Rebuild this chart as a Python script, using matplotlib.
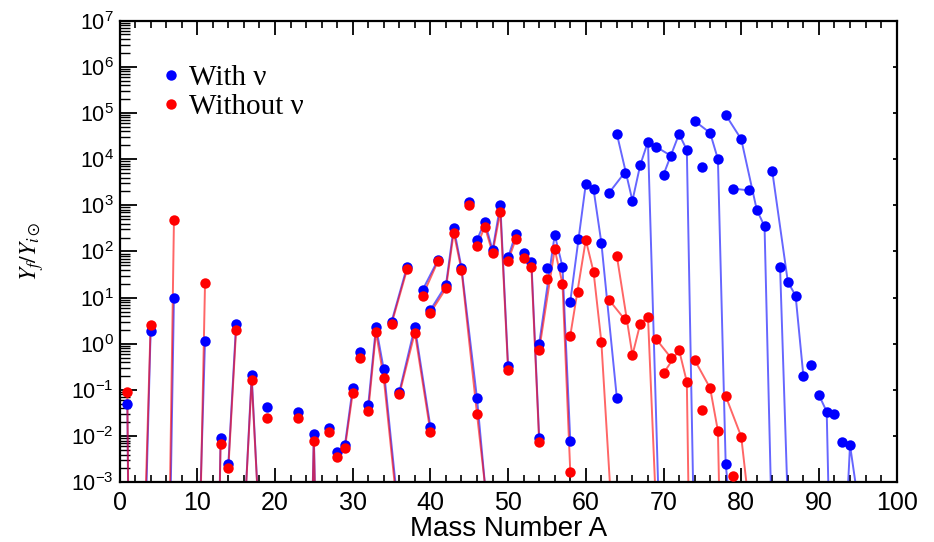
import numpy as np
import matplotlib
matplotlib.use('Agg')
import matplotlib.pyplot as plt
from matplotlib.lines import Line2D
from matplotlib.ticker import MultipleLocator, LogLocator, NullFormatter

# isotope chains (one line per element)
elements = ['H', 'He', 'Li', 'B', 'C', 'N', 'O', 'F', 'Na', 'Mg', 'Al', 'Si', 'P', 'S',
            'Cl', 'Ar', 'K', 'Ca', 'Sc', 'Ti', 'V', 'Cr', 'Mn', 'Fe', 'Co', 'Ni', 'Cu',
            'Zn', 'Ga', 'Ge', 'As', 'Se', 'Br', 'Kr', 'Rb', 'Sr', 'Y', 'Zr', 'Nb', 'Mo']

mass_numbers = [
    [1, 2], [3, 4], [6, 7], [10, 11], [12, 13], [14, 15], [16, 17, 18], [19], [23],
    [24, 25, 26], [27], [28, 29, 30], [31], [32, 33, 34, 36], [35, 37], [36, 38, 40],
    [39, 41], [40, 42, 43, 44, 46, 48], [45], [46, 47, 48, 49, 50], [50, 51],
    [52, 53, 54], [55], [54, 56, 57, 58], [59], [58, 60, 61, 62, 64], [63, 65],
    [64, 66, 67, 68, 70], [69, 71], [70, 72, 73, 74, 76], [75], [74, 76, 77, 78, 80, 82],
    [79, 81], [78, 80, 82, 83, 84, 86], [85, 87], [84, 86, 87, 88], [89],
    [90, 91, 92, 94, 96], [93], [92],
]

with_nu = [
    [0.05, 1e-20], [1e-6, 1.9], [1e-9, 10], [3e-6, 1.17], [1e-12, 0.009], [0.0025, 2.7],
    [1e-4, 0.21, 1e-4], [0.042], [0.033], [1e-10, 0.011, 1e-10], [0.015],
    [0.0046, 0.0064, 0.11], [0.65], [0.047, 2.35, 0.28, 1.5e-4], [3.0, 47],
    [0.09, 2.35, 0.016], [14.7, 67], [5.4, 18.6, 330, 45, 0.066, 1.5e-5], [1200],
    [178, 445, 107, 1020, 0.33], [75, 245], [92, 60, 0.0093], [43.5],
    [1.0, 230, 47, 0.008], [183], [8.2, 2900, 2200, 155, 0.066], [1870, 5100],
    [35000, 1260, 7400, 24000, 1e-7], [18700, 11700], [4600, 35000, 15800, 1.6e-5, 1e-8],
    [6600], [67000, 37000, 10000, 0.0025, 1e-6, 1e-8], [2300, 2100],
    [91000, 27000, 800, 350, 4e-5, 1e-8], [46, 2e-9], [5400, 22, 11, 0.2], [0.35],
    [0.078, 0.034, 1e-9, 0.0064, 3e-5], [0.0075], [0.031],
]

without_nu = [
    [0.09, 1e-20], [5e-6, 2.6], [2e-9, 480], [1e-7, 21], [1e-12, 0.0068], [0.002, 2.0],
    [1e-4, 0.165, 1e-4], [0.025], [0.025], [1e-10, 0.008, 1e-10], [0.0125],
    [0.0035, 0.0055, 0.085], [0.49], [0.035, 1.8, 0.18, 1e-4], [2.7, 41],
    [0.08, 1.75, 0.0125], [11, 63], [4.7, 15.8, 257, 40, 0.03, 3e-5], [1020],
    [132, 347, 93, 725, 0.27], [62, 190], [71, 46, 0.0074], [26],
    [0.74, 112, 20, 0.0017], [13.5], [1.5, 178, 36, 1.1, 3e-6], [8.9, 3.4],
    [79, 0.57, 2.7, 3.9, 4e-8], [1.3, 0.49], [0.23, 0.74, 0.15, 1e-12, 1e-12],
    [0.037], [0.45, 0.11, 0.013, 1e-10, 1e-12, 1e-12], [0.0014, 1e-6],
    [0.074, 0.0098, 1e-5, 1e-8, 1e-8, 1e-8], [None, None], [None, None, None, None], [None],
    [None, None, None, None, None], [None], [None],
]


def as_array(vals):
    return np.array([np.nan if v is None else v for v in vals], dtype=float)


plt.rcParams['mathtext.fontset'] = 'stix'

fig = plt.figure(figsize=(9.34, 5.42), dpi=100)
ax = fig.add_axes([0.128, 0.110, 0.832, 0.852])

for series, col in [(with_nu, '#0000ff'), (without_nu, '#ff0000')]:
    for A, vals in zip(mass_numbers, series):
        ax.plot(A, as_array(vals), '-', color=col, lw=1.4, alpha=0.6, zorder=2)
        ax.plot(A, as_array(vals), 'o', color=col, ms=7.5, mew=0, zorder=3)

ax.set_yscale('log')
ax.set_xlim(0, 100)
ax.set_ylim(1e-3, 1e7)

ax.xaxis.set_major_locator(MultipleLocator(10))
ax.xaxis.set_minor_locator(MultipleLocator(2))
ax.yaxis.set_major_locator(LogLocator(base=10, numticks=20))
ax.yaxis.set_minor_locator(LogLocator(base=10, subs=np.arange(2, 10), numticks=20))
ax.yaxis.set_minor_formatter(NullFormatter())

ax.tick_params(axis='x', which='major', direction='in', top=True, length=10, width=1.3,
               labelsize=18, pad=6)
ax.tick_params(axis='x', which='minor', direction='in', top=True, length=5, width=1.2)
ax.tick_params(axis='y', which='major', direction='in', right=True, length=12, width=1.3,
               labelsize=15.5, pad=4)
ax.tick_params(axis='y', which='minor', direction='in', right=False, length=7, width=1.0)
for lab in ax.get_xticklabels() + ax.get_yticklabels():
    lab.set_family('Liberation Sans')
for sp in ax.spines.values():
    sp.set_linewidth(1.6)

# short ticks on the right-hand side only
for t in ax.yaxis.get_major_ticks():
    t.tick2line.set_markersize(3)

ax.set_xlabel('Mass Number A', fontsize=20, family='Liberation Sans')
ax.xaxis.set_label_coords(0.5, -0.072)
ax.set_ylabel(r'$Y_f/Y_{i\odot}$', fontsize=17, labelpad=18)

handles = [Line2D([], [], marker='o', ls='none', color='#0000ff', ms=7.5, mew=0),
           Line2D([], [], marker='o', ls='none', color='#ff0000', ms=7.5, mew=0)]
ax.legend(handles, ['With ν', 'Without ν'], loc='upper left', bbox_to_anchor=(0.01, 0.962),
          frameon=False, handletextpad=0.0, handlelength=1.2, labelspacing=0.1,
          prop={'family': 'Liberation Serif', 'size': 21})

fig.savefig('out.png', dpi=100)
